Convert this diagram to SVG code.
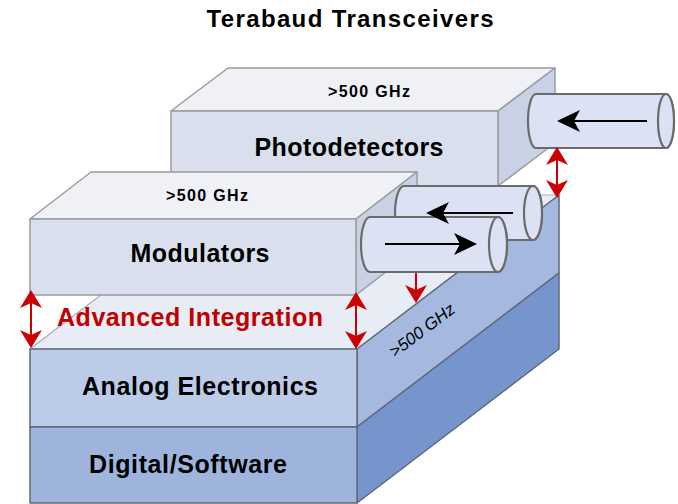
<svg xmlns="http://www.w3.org/2000/svg" width="678" height="504" viewBox="0 0 678 504">
<defs>
<style>
text{font-family:"Liberation Sans",Arial,sans-serif;font-weight:bold;fill:#000}
.lbl{font-size:25px}
.ghz{font-size:16px}
.red{fill:#c00000}
.up{stroke:#9b9b9b;stroke-width:1.5;stroke-linejoin:round}
.low{stroke:#5f6878;stroke-width:1.5;stroke-linejoin:round}
.cyl{fill:#dce2f4;stroke:#6b6b6b;stroke-width:2.2}
.blk{stroke:#000;stroke-width:2;fill:none}
.rd{stroke:#cc0000;stroke-width:2;fill:none}
</style>
<marker id="ah" viewBox="-25 -12 27 24" refX="-3" refY="0" markerWidth="27" markerHeight="24" markerUnits="userSpaceOnUse" orient="auto-start-reverse">
<path d="M0,0 L-23,-11 L-17,0 L-23,11 Z" fill="#000"/>
</marker>
<marker id="rh" viewBox="-20 -12 22 24" refX="-3" refY="0" markerWidth="22" markerHeight="24" markerUnits="userSpaceOnUse" orient="auto-start-reverse">
<path d="M0,0 L-18,-11 L-13,0 L-18,11 Z" fill="#cc0000"/>
</marker>
</defs>
<rect width="678" height="504" fill="#fff"/>
<text x="350" y="27" text-anchor="middle" class="lbl" style="font-size:24px" textLength="287" lengthAdjust="spacing">Terabaud Transceivers</text>

<g id="base">
<polygon points="30,349 357,349 559,195 232,195" fill="#e8ecf4" stroke="#a9aeb8" stroke-width="1.2"/>
<polygon class="low" points="357,349 559,195 559,273 357,427" fill="#a5b8df"/>
<polygon class="low" points="357,427 559,273 559,349 357,503" fill="#7595cc"/>
<rect class="low" x="30" y="349" width="327" height="78" fill="#bccce8"/>
<rect class="low" x="30" y="427" width="327" height="76" fill="#9fb4dc"/>
</g>
<g id="analog"><text x="200" y="395" text-anchor="middle" class="lbl" textLength="236" lengthAdjust="spacing">Analog Electronics</text></g>
<g id="digital"><text x="188" y="473" text-anchor="middle" class="lbl" textLength="198" lengthAdjust="spacing">Digital/Software</text></g>
<g id="side-ghz"><text transform="translate(422,330) rotate(-37)" y="6" text-anchor="middle" style="font-size:17px;font-weight:normal;font-style:italic" fill="#111">&gt;500 GHz</text></g>

<g id="photodetectors">
<polygon class="up" points="171,111 498,111 555,68 228,68" fill="#eff1f7"/>
<polygon class="up" points="498,111 555,68 555,143 498,186" fill="#c9d1e4"/>
<rect class="up" x="171" y="111" width="327" height="75" fill="#d9dfec"/>
<text x="369" y="97" text-anchor="middle" class="ghz" textLength="82" lengthAdjust="spacing">&gt;500 GHz</text>
<text x="349" y="156" text-anchor="middle" class="lbl" textLength="189" lengthAdjust="spacing">Photodetectors</text>
</g>

<g id="fiber-top">
<path class="cyl" d="M536,94 L666,94 A8,27 0 0 1 666,148 L536,148 A8,27 0 0 1 536,94 Z"/>
<ellipse class="cyl" cx="666" cy="121" rx="8" ry="27"/>
</g>

<g id="modulators">
<polygon class="up" points="30,219 356,219 417,172 91,172" fill="#eff1f7"/>
<polygon class="up" points="356,219 417,172 417,248 356,295" fill="#c9d1e4"/>
<rect class="up" x="30" y="219" width="326" height="76" fill="#d9dfec"/>
<text x="207" y="201" text-anchor="middle" class="ghz" textLength="82" lengthAdjust="spacing">&gt;500 GHz</text>
<text x="200" y="262" text-anchor="middle" class="lbl" textLength="139" lengthAdjust="spacing">Modulators</text>
</g>

<g id="fiber-mid">
<path class="cyl" d="M404,186 L533,186 A9,27 0 0 1 533,240 L404,240 A9,27 0 0 1 404,186 Z"/>
<ellipse class="cyl" cx="533" cy="213" rx="9" ry="27"/>
</g>
<g id="fiber-front">
<path class="cyl" d="M370,217 L498,217 A9,27.5 0 0 1 498,272 L370,272 A9,27.5 0 0 1 370,217 Z"/>
<ellipse class="cyl" cx="498" cy="244.5" rx="9" ry="27.5"/>
</g>

<g id="advanced-integration"><text x="190" y="326" text-anchor="middle" class="lbl red" textLength="266" lengthAdjust="spacing">Advanced Integration</text></g>

<g id="connectors">
<line class="blk" x1="647" y1="121" x2="560" y2="121" marker-end="url(#ah)"/>
<line class="blk" x1="513" y1="213" x2="429" y2="213" marker-end="url(#ah)"/>
<line class="blk" x1="385" y1="244" x2="474" y2="244" marker-end="url(#ah)"/>
<line class="rd" x1="557" y1="150" x2="557" y2="195" marker-start="url(#rh)" marker-end="url(#rh)"/>
<line class="rd" x1="416" y1="273" x2="416" y2="300" marker-end="url(#rh)"/>
<line class="rd" x1="31" y1="293" x2="31" y2="345" marker-start="url(#rh)" marker-end="url(#rh)"/>
<line class="rd" x1="356" y1="295" x2="356" y2="346" marker-start="url(#rh)" marker-end="url(#rh)"/>
</g>
</svg>
